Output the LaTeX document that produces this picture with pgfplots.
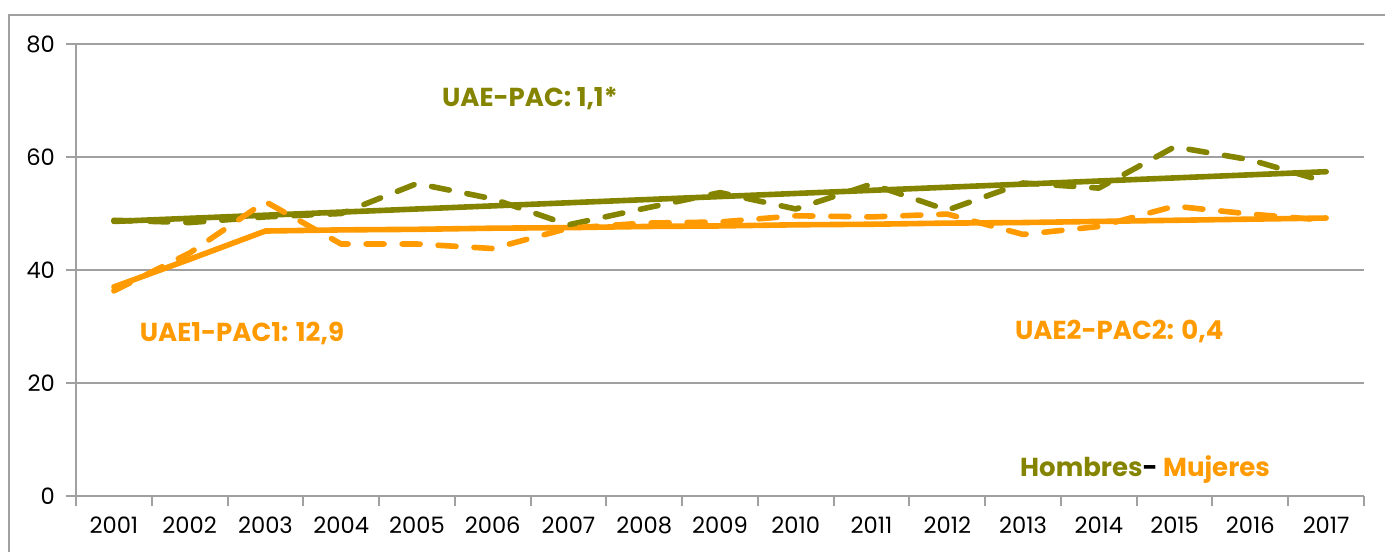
\documentclass[border=0pt]{standalone}
\usepackage{fontspec}
\setmainfont{Poppins}
\usepackage{pgfplots}
\pgfplotsset{compat=1.18}
\definecolor{olivec}{HTML}{848400}
\definecolor{orangec}{HTML}{FF9A00}
\definecolor{gridc}{HTML}{A0A0A0}
\begin{document}
\begin{tikzpicture}
\useasboundingbox (-38pt,-27.5pt) rectangle (654.5pt,248pt);
\draw[gridc, line width=1.2pt] (-33.5pt,-60pt) -- (-33.5pt,240.5pt) -- (700pt,240.5pt);
\begin{axis}[
  at={(0,0)}, anchor=south west,
  scale only axis, width=644pt, height=226pt,
  xmin=-0.5, xmax=16.5, ymin=0, ymax=80,
  axis lines=left, axis line style={gridc, line width=1pt, -},
  xtick={0,...,16},
  xticklabels={2001,2002,2003,2004,2005,2006,2007,2008,2009,2010,2011,2012,2013,2014,2015,2016,2017},
  major x tick style={draw=none},
  minor xtick={-0.5,0.5,...,16.5},
  minor x tick style={gridc, line width=1pt},
  minor tick length=5pt,
  ytick={0,20,40,60,80},
  major y tick style={gridc, line width=1pt},
  major tick length=5pt,
  tick align=outside,
  ymajorgrids, grid style={gridc, line width=1pt},
  /pgf/number format/assume math mode=true,
  tick label style={font=\fontsize{11.3pt}{13pt}\selectfont, black},
  xticklabel style={yshift=-2pt},
  yticklabel style={xshift=-2pt},
  clip=false,
]
% Hombres trend
\addplot[olivec, line width=2.8pt, line cap=round] coordinates {(0,48.6) (16,57.4)};
% Mujeres trend
\addplot[orangec, line width=2.8pt, line cap=round, line join=round] coordinates {
(0,37.0) (1,41.9) (2,46.9) (3,47.1) (4,47.2) (5,47.4) (6,47.5) (7,47.7) (8,47.8) (9,48.0) (10,48.1) (11,48.3) (12,48.4) (13,48.6) (14,48.8) (15,49.0) (16,49.2)};
% Hombres data
\addplot[olivec, line width=2.8pt, line cap=round, line join=round, dash pattern=on 9pt off 9pt] coordinates {
(0,48.8) (1,48.4) (2,49.4) (3,50.0) (4,55.3) (5,52.6) (6,48.0) (7,50.9) (8,53.7) (9,50.8) (10,55.2) (11,50.6) (12,55.4) (13,54.5) (14,61.8) (15,59.5) (16,55.6)};
% Mujeres data
\addplot[orangec, line width=2.8pt, line cap=round, line join=round, dash pattern=on 9pt off 9pt] coordinates {
(0,36.3) (1,43.0) (2,52.1) (3,44.6) (4,44.6) (5,43.8) (6,47.4) (7,48.3) (8,48.5) (9,49.6) (10,49.4) (11,49.9) (12,46.3) (13,47.7) (14,51.3) (15,49.9) (16,48.8)};
\node[olivec, font=\fontsize{13pt}{15pt}\selectfont\bfseries] at (axis cs:5.49,70.4) {UAE-PAC: 1,1*};
\node[orangec, font=\fontsize{13pt}{15pt}\selectfont\bfseries] at (axis cs:1.69,28.7) {UAE1-PAC1: 12,9};
\node[orangec, font=\fontsize{13pt}{15pt}\selectfont\bfseries] at (axis cs:13.27,29.2) {UAE2-PAC2: 0,4};
\node[font=\fontsize{13pt}{15pt}\selectfont\bfseries] at (axis cs:13.61,4.6) {\textcolor{olivec}{Hombres}- \textcolor{orangec}{Mujeres}};
\end{axis}
\end{tikzpicture}
\end{document}
